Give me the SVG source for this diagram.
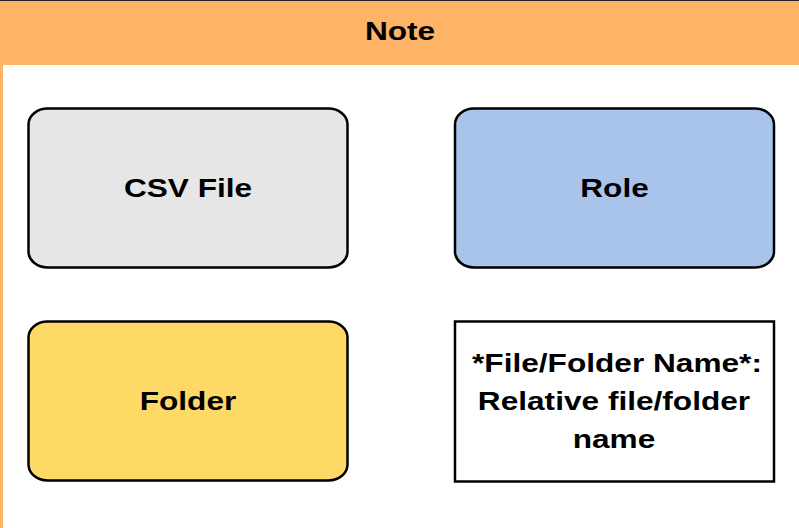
<svg xmlns="http://www.w3.org/2000/svg" width="799" height="528" viewBox="0 0 799 528">
<style>
.box{stroke:#000;stroke-width:2.5}
.lbl{font-family:"Liberation Sans",Arial,sans-serif;font-weight:bold;font-size:25.5px;fill:#000;text-anchor:middle}
</style>
<rect x="0" y="0" width="799" height="528" fill="#ffffff"/>
<g id="container">
<rect x="0" y="0" width="799" height="65" fill="#FFB366"/>
<rect x="0" y="0" width="3" height="528" fill="#FFB366"/>
<rect x="0" y="0" width="799" height="1" fill="#1f2329"/>
<text class="lbl" transform="matrix(1.24 0 0 1 400 40)">Note</text>
</g>
<g id="connectors"></g>
<g id="csv-file">
<rect class="box" x="28.5" y="108.5" width="319" height="159" rx="19" ry="16" fill="#E6E6E6"/>
<text class="lbl" transform="matrix(1.24 0 0 1 188 197)">CSV File</text>
</g>
<g id="role">
<rect class="box" x="455" y="108.5" width="319" height="159" rx="19" ry="16" fill="#A9C4EB"/>
<text class="lbl" transform="matrix(1.24 0 0 1 614.5 197)">Role</text>
</g>
<g id="folder">
<rect class="box" x="28.5" y="321.5" width="319" height="159" rx="19" ry="16" fill="#FFD966"/>
<text class="lbl" transform="matrix(1.24 0 0 1 188 410)">Folder</text>
</g>
<g id="legend-note">
<rect class="box" x="455" y="321.5" width="319" height="160" fill="#ffffff"/>
<text class="lbl" transform="matrix(1.24 0 0 1 617 372)">*File/Folder Name*:</text>
<text class="lbl" transform="matrix(1.24 0 0 1 614 410)">Relative file/folder</text>
<text class="lbl" transform="matrix(1.24 0 0 1 614 448)">name</text>
</g>
</svg>
